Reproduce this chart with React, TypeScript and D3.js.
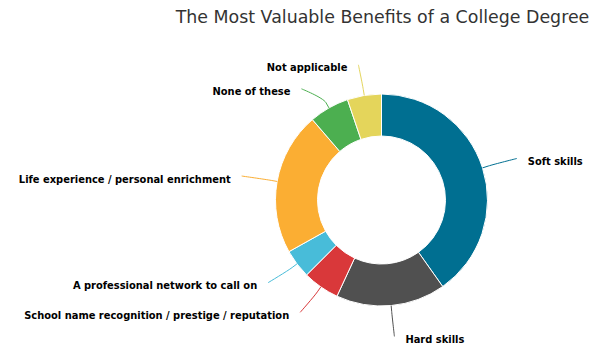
import * as d3 from "d3";
import React, { useEffect, useRef } from "react";

const categories = [
  "Soft skills",
  "Hard skills",
  "School name recognition / prestige / reputation",
  "A professional network to call on",
  "Life experience / personal enrichment",
  "None of these",
  "Not applicable",
];
const values = [40.2, 16.7, 5.6, 4.4, 21.8, 6.1, 5.2];
const colors = ["#006f91", "#505050", "#d9383a", "#48bcd9", "#fbae33", "#4caf50", "#e4d55b"];
const title = "The Most Valuable Benefits of a College Degree";

const App = () => {
  const svgRef = useRef<SVGSVGElement>(null);

  useEffect(() => {
    const svg = d3.select(svgRef.current);
    const cx = 381.5;
    const cy = 200;
    const outerR = 106;
    const innerR = 64;
    // labels sit on a slightly flattened ring around the donut
    const labelRx = outerR + 36;
    const labelRy = outerR + 31;

    svg.selectAll("*").remove();

    svg
      .append("text")
      .attr("x", cx + 1)
      .attr("y", 23)
      .attr("text-anchor", "middle")
      .attr("font-family", "DejaVu Sans, sans-serif")
      .attr("font-size", "17.4px")
      .attr("fill", "#333333")
      .text(title);

    const pie = d3
      .pie<number>()
      .sort(null)
      .value((d) => d);
    const arcs = pie(values);
    const arc = d3.arc<d3.PieArcDatum<number>>().innerRadius(innerR).outerRadius(outerR);

    const g = svg.append("g").attr("transform", `translate(${cx},${cy})`);

    g.selectAll("path.slice")
      .data(arcs)
      .enter()
      .append("path")
      .attr("class", "slice")
      .attr("d", arc)
      .attr("fill", (d, i) => colors[i])
      .attr("stroke", "#ffffff")
      .attr("stroke-width", 1)
      .attr("stroke-linejoin", "round");

    // label layout, highcharts style
    const labels = arcs.map((a, i) => {
      const mid = (a.startAngle + a.endAngle) / 2;
      return {
        i,
        mid,
        right: mid < Math.PI,
        y: -labelRy * Math.cos(mid),
        x: labelRx * Math.sin(mid),
        moved: false,
      };
    });
    [true, false].forEach((side) => {
      const group = labels.filter((l) => l.right === side).sort((a, b) => a.y - b.y);
      for (let k = 1; k < group.length; k++) {
        const minY = group[k - 1].y + 24;
        if (group[k].y < minY) {
          group[k].y = minY;
          group[k].moved = true;
        }
      }
    });
    labels.forEach((l) => {
      if (l.moved) {
        const dx = Math.sqrt(Math.max(0, labelRy * labelRy - l.y * l.y));
        l.x = l.right ? dx : -dx;
      }
    });

    labels.forEach((l) => {
      const s = Math.sin(l.mid);
      const c = -Math.cos(l.mid);
      const tx = outerR * s;
      const ty = outerR * c;
      const bx = (outerR + 6) * s;
      const by = (outerR + 6) * c;
      const path = d3.path();
      path.moveTo(l.x, l.y);
      path.bezierCurveTo(l.x, l.y, 2 * bx - tx, 2 * by - ty, bx, by);
      path.lineTo(tx, ty);
      g.append("path")
        .attr("d", path.toString())
        .attr("fill", "none")
        .attr("stroke", colors[l.i])
        .attr("stroke-width", 1);

      g.append("text")
        .attr("x", l.x + (l.right ? 11 : -11))
        .attr("y", l.y + 6.5)
        .attr("text-anchor", l.right ? "start" : "end")
        .attr("font-family", "DejaVu Sans Condensed, DejaVu Sans, sans-serif")
        .attr("font-weight", "bold")
        .attr("font-size", "11px")
        .attr("fill", "#000000")
        .text(categories[l.i]);
    });
  }, []);

  return (
    <svg
      ref={svgRef}
      width="612"
      height="351"
      style={{ position: "absolute", left: 0, top: 0, background: "#fff" }}
    ></svg>
  );
};

export default App;
